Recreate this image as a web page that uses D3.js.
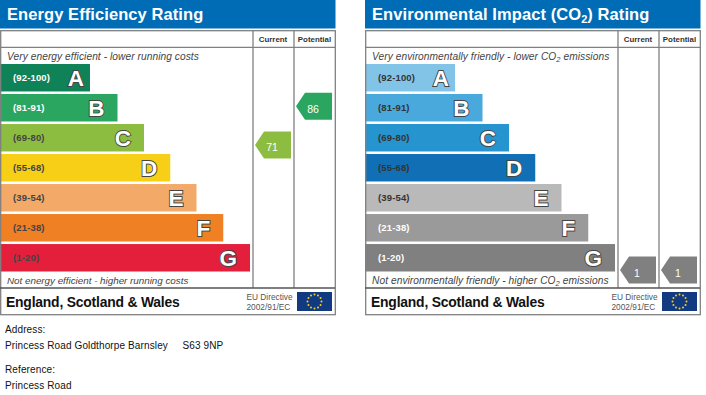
<!DOCTYPE html>
<html>
<head>
<meta charset="utf-8">
<script src="https://cdn.jsdelivr.net/npm/d3@7"></script>
<style>
  html, body { margin: 0; padding: 0; background: #fff; }
  svg { display: block; }
  text { font-family: "Liberation Sans", Arial, sans-serif; }
</style>
</head>
<body>
<div id="chart-area"></div>
<script>
const letters = ["A", "B", "C", "D", "E", "F", "G"];
const ranges = ["(92-100)", "(81-91)", "(69-80)", "(55-68)", "(39-54)", "(21-38)", "(1-20)"];
const bandFloors = [92, 81, 69, 55, 39, 21, 1];
const barLengths = [36, 47, 57.6, 68.1, 78.6, 89.3, 100];
const energyColors = ["#0f8258", "#2ba660", "#8dbd40", "#f7cf17", "#f3aa68", "#ef8023", "#e31f3c"];
const co2Colors = ["#82c4e8", "#4aa9dc", "#2594cf", "#1170b5", "#b9b9b9", "#9a9a9a", "#808080"];
const rangeInk = ["#fff", "#fff", "#444", "#444", "#444", "#444", "#444"];
const co2RangeInk = ["#333", "#333", "#333", "#333", "#333", "#fff", "#fff"];
const energyRatings = [{ col: "Current", value: 71 }, { col: "Potential", value: 86 }];
const co2Ratings = [{ col: "Current", value: 1 }, { col: "Potential", value: 1 }];
const addressLines = ["Address:", "Princess Road Goldthorpe Barnsley\u00a0\u00a0\u00a0\u00a0 S63 9NP", "Reference:", "Princess Road"];
const flagStars = d3.range(12);

const chartSize = { width: 706, height: 395 };
const svg = d3.select("#chart-area").append("svg")
  .attr("width", chartSize.width)
  .attr("height", chartSize.height);

const blue = "#006cb5";
const frame = "#808080";

const y = d3.scaleBand().domain(letters).range([64, 271.5]).paddingInner(0.085).paddingOuter(0);
const len = d3.scaleLinear().domain([0, 100]).range([0, 250]);

// rating -> vertical position, piecewise so each band keeps its own slope
const ratingY = d3.scaleLinear()
  .domain([100].concat(bandFloors))
  .range([y("A")].concat(letters.map(l => y(l) + y.bandwidth())));

const marker = (w, h) => `M0,${h / 2}L9,0H${w}V${h}H9Z`;

const drawPanel = (x0, title, topNote, bottomNote, bottomStyle, colors, inks, ratings) => {
  const g = svg.append("g").attr("transform", `translate(${x0}, 0)`);

  g.append("rect").attr("x", 0).attr("y", 0).attr("width", 335.5).attr("height", 28.5).attr("fill", blue);
  const t = g.append("text").attr("x", 7).attr("y", 20).attr("fill", "#fff")
    .attr("font-size", 16.5).attr("font-weight", "bold").attr("letter-spacing", 0.08);
  title.forEach(p => {
    t.append("tspan").attr("font-size", p.sub ? 11 : null).attr("dy", p.sub ? 3 : (p.after ? -3 : 0)).text(p.text);
  });

  g.selectAll(".bar").data(letters).enter().append("rect")
    .attr("x", 0).attr("y", d => y(d))
    .attr("width", (d, i) => len(barLengths[i]))
    .attr("height", y.bandwidth())
    .attr("fill", (d, i) => colors[i]);

  const lines = g.append("g").attr("stroke", frame).attr("stroke-width", 1.3).attr("fill", "none");
  lines.append("rect").attr("x", 0.7).attr("y", 30.7).attr("width", 334.6).attr("height", 284);
  [[253, 30, 253, 288], [294, 30, 294, 288], [0, 47.3, 335, 47.3], [0, 288, 335, 288]].forEach(d => {
    lines.append("line").attr("x1", d[0]).attr("y1", d[1]).attr("x2", d[2]).attr("y2", d[3]);
  });
  lines.selectAll("line").filter((d, i) => i === 3).attr("stroke", "#555");

  const colX = d3.scaleOrdinal().domain(["Current", "Potential"]).range([273, 314.5]);
  g.selectAll(".col-head").data(colX.domain()).enter().append("text")
    .attr("x", d => colX(d)).attr("y", 42).attr("text-anchor", "middle")
    .attr("font-size", 7.9).attr("font-weight", "bold").attr("fill", "#333")
    .text(d => d);

  const note = (yPos, parts, style) => {
    const n = g.append("text").attr("x", 7).attr("y", yPos).attr("fill", "#444")
      .attr("font-size", style.size).attr("font-style", "italic").attr("letter-spacing", style.spacing);
    parts.forEach(p => n.append("tspan").attr("font-size", p.sub ? 7.5 : null)
      .attr("dy", p.sub ? 2 : (p.after ? -2 : 0)).text(p.text));
  };
  note(60, topNote, { size: 10.2, spacing: 0.06 });
  note(283.5, bottomNote, bottomStyle);

  g.selectAll(".range").data(ranges).enter().append("text")
    .attr("x", 13).attr("y", (d, i) => y(letters[i]) + y.bandwidth() / 2 + 3.5)
    .attr("font-size", 9.5).attr("font-weight", "bold").attr("letter-spacing", 0.15)
    .attr("fill", (d, i) => inks[i]).text(d => d);

  g.selectAll(".letter").data(letters).enter().append("text")
    .attr("x", (d, i) => len(barLengths[i]) - (d === "A" ? 6 : 13))
    .attr("y", d => y(d) + y.bandwidth() / 2 + 8)
    .attr("text-anchor", "end")
    .attr("font-size", 22.5).attr("font-weight", "bold")
    .attr("fill", "#fff").attr("stroke", "#444").attr("stroke-width", 1.8)
    .attr("paint-order", "stroke").text(d => d);

  const markers = g.selectAll(".marker").data(ratings).enter().append("g")
    .attr("transform", d => `translate(${d.col === "Current" ? 255 : 296}, ${ratingY(d.value) - 15})`);
  markers.append("path").attr("d", marker(36, 27)).attr("fill", d => {
    const i = bandFloors.findIndex(f => d.value >= f);
    return colors[i];
  });
  markers.append("text").attr("x", 17).attr("y", 20).attr("text-anchor", "middle")
    .attr("font-size", 10.5).attr("fill", "#fff").text(d => d.value);

  g.append("text").attr("x", 6).attr("y", 306.5).attr("fill", "#111")
    .attr("font-size", 13.9).attr("font-weight", "bold").attr("letter-spacing", -0.2)
    .text("England, Scotland & Wales");

  const eu = g.append("text").attr("font-size", 8.3).attr("fill", "#555");
  eu.append("tspan").attr("x", 246.5).attr("y", 300).text("EU Directive");
  eu.append("tspan").attr("x", 246.5).attr("y", 309.5).text("2002/91/EC");

  g.append("rect").attr("x", 297).attr("y", 292).attr("width", 35).attr("height", 19).attr("fill", "#123a80");
  g.selectAll(".star").data(flagStars).enter().append("circle")
    .attr("cx", d => 314.5 + 7 * Math.sin(d * Math.PI / 6))
    .attr("cy", d => 301.5 - 7 * Math.cos(d * Math.PI / 6))
    .attr("r", 1).attr("fill", "#f4d21f");
};

drawPanel(0, [{ text: "Energy Efficiency Rating" }],
  [{ text: "Very energy efficient - lower running costs" }],
  [{ text: "Not energy efficient - higher running costs" }],
  { size: 9.85, spacing: -0.02 },
  energyColors, rangeInk, energyRatings);

drawPanel(365, [{ text: "Environmental Impact (CO" }, { text: "2", sub: true }, { text: ") Rating", after: true }],
  [{ text: "Very environmentally friendly - lower CO" }, { text: "2", sub: true }, { text: " emissions", after: true }],
  [{ text: "Not environmentally friendly - higher CO" }, { text: "2", sub: true }, { text: " emissions", after: true }],
  { size: 10.2, spacing: 0.06 },
  co2Colors, co2RangeInk, co2Ratings);

const addressY = [333, 349, 373, 389];
svg.selectAll(".address").data(addressLines).enter().append("text")
  .attr("x", 5).attr("y", (d, i) => addressY[i])
  .attr("font-size", 10).attr("fill", "#111").attr("letter-spacing", 0.12)
  .text(d => d);
</script>
</body>
</html>
